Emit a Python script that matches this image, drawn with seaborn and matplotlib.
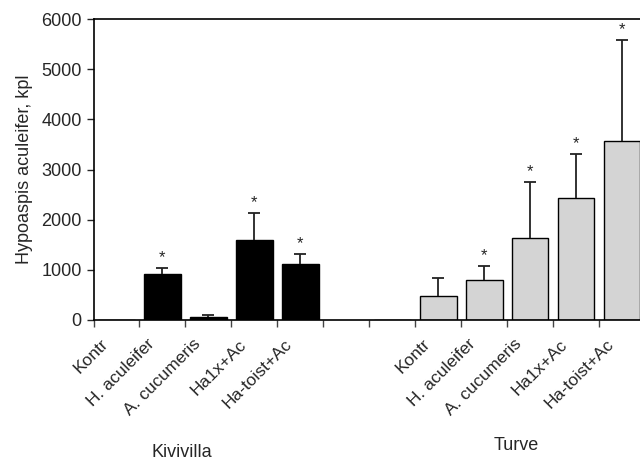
import numpy as np
import pandas as pd
import seaborn as sns
import matplotlib.pyplot as plt
from matplotlib import transforms

# Data
slots = ['K_Kontr', 'K_Hac', 'K_Acu', 'K_Ha1x', 'K_Hat', 'gap', 'T_zero',
         'T_Kontr', 'T_Hac', 'T_Acu', 'T_Ha1x', 'T_Hat']
tick_labels = ['Kontr', 'H. aculeifer', 'A. cucumeris', 'Ha1x+Ac', 'Ha-toist+Ac', '', '',
               'Kontr', 'H. aculeifer', 'A. cucumeris', 'Ha1x+Ac', 'Ha-toist+Ac']
bar_slots = ['K_Kontr', 'K_Hac', 'K_Acu', 'K_Ha1x', 'K_Hat', 'T_zero',
             'T_Kontr', 'T_Hac', 'T_Acu', 'T_Ha1x', 'T_Hat']
groups = ['Kivivilla'] * 5 + ['Turve'] * 6
means = [8, 915, 65, 1595, 1115, 8, 478, 797, 1641, 2425, 3561]
errors = [0, 120, 35, 545, 200, 0, 360, 285, 1104, 877, 2014]
signif = [False, True, False, True, True, False, False, True, True, True, True]

df = pd.DataFrame({'slot': bar_slots, 'group': groups, 'mean': means,
                   'err': errors, 'sig': signif})

sns.set_style('ticks')
plt.rcParams['font.family'] = ['Liberation Sans', 'DejaVu Sans']

fig = plt.figure(figsize=(6.4, 4.61), dpi=100)
ax = fig.add_axes([93.5 / 640, 141 / 461, 551.5 / 640, 301 / 461])

sns.barplot(data=df, x='slot', y='mean', hue='group', order=slots, dodge=False,
            palette={'Kivivilla': 'black', 'Turve': '#d4d4d4'},
            edgecolor='black', linewidth=1.0, width=0.8, ax=ax, legend=False)

# upper error bars only
pos = [slots.index(s) for s in df['slot']]
has_err = df['err'] > 0
eb = ax.errorbar(np.array(pos)[has_err], df['mean'][has_err],
                 yerr=[np.zeros(has_err.sum()), df['err'][has_err]],
                 fmt='none', ecolor='#222222', elinewidth=1.3, capsize=4, capthick=1.3)
eb[1][0].set_visible(False)

for p, m, e, s in zip(pos, df['mean'], df['err'], df['sig']):
    if s:
        ax.annotate('*', xy=(p, m + e), xytext=(0, 2), textcoords='offset points',
                    ha='center', va='bottom', fontsize=12)

ax.set_xlim(-0.5, 11.5)
ax.set_ylim(0, 6000)
ax.set_yticks(range(0, 6001, 1000))
ax.set_xticks(range(len(slots)))
ax.set_xticklabels(tick_labels, rotation=45, ha='right', rotation_mode='anchor',
                   fontsize=12.5)
ax.set_xticks(np.arange(-0.5, 12, 1), minor=True)
ax.tick_params(axis='x', which='major', length=0, pad=12)
ax.tick_params(axis='x', which='minor', length=5, width=1, color='#444444')
ax.tick_params(axis='y', length=5, width=1, labelsize=13)
offset = transforms.ScaledTranslation(-11.5 / 72, 0, fig.dpi_scale_trans)
for lab in ax.get_xticklabels():
    lab.set_transform(lab.get_transform() + offset)

ax.set_xlabel('')
ax.set_ylabel('Hypoaspis aculeifer, kpl', fontsize=13, labelpad=6)
for side in ['left', 'bottom', 'top', 'right']:
    ax.spines[side].set_visible(True)
    ax.spines[side].set_linewidth(1.2)
    ax.spines[side].set_color('black')

fig.text(182 / 640, 1 - 452 / 461, 'Kivivilla', ha='center', va='center', fontsize=13)
fig.text(516 / 640, 1 - 445 / 461, 'Turve', ha='center', va='center', fontsize=13)

fig.savefig('out.png', dpi=100)
